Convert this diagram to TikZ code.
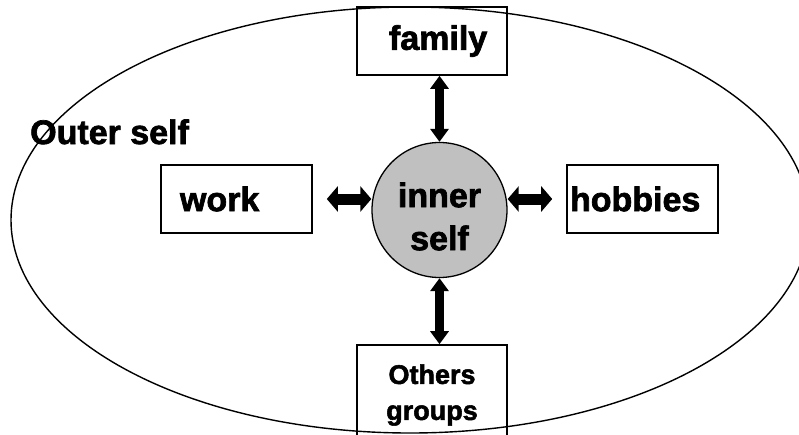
\documentclass[tikz,border=0pt]{standalone}
\usepackage{fontspec}
\setmainfont{Liberation Sans}[BoldFeatures={FakeBold=2}]
\usetikzlibrary{arrows.meta,shapes.geometric}
\definecolor{innergray}{HTML}{C0C0C0}
\tikzset{
  bigfont/.style={font=\fontsize{34}{43}\selectfont\bfseries},
  labelbox/.style={draw, line width=1.6pt, inner xsep=0pt, inner ysep=0pt,
    minimum height=68pt, bigfont},
  dblv/.style={line width=8.5pt, {Triangle[length=13pt,width=18pt]}-{Triangle[length=13pt,width=18pt]}},
  dblh/.style={line width=11pt, {Triangle[length=11pt,width=25pt]}-{Triangle[length=11pt,width=25pt]}},
}
\begin{document}
\begin{tikzpicture}[x=1pt,y=-1pt]
\useasboundingbox (0,0) rectangle (799,434);
\clip (0,0) rectangle (799,434);
% outer ellipse
\node[ellipse, draw, line width=1.4pt, minimum width=798pt, minimum height=426pt, inner sep=0pt] (outer) at (410,220) {};
\node[anchor=base west, inner sep=0pt, bigfont] (outerlabel) at (30,144) {Outer self};
% boxes
\node[labelbox, text width=150pt, align=left] (family) at (432,41) {\hspace*{32pt}family};
\node[labelbox, text width=151pt, align=left] (work) at (236.5,199) {\hspace*{19pt}work};
\node[labelbox, text width=151pt, align=left] (hobbies) at (642.5,199) {\hspace*{3pt}hobbies};
\node[labelbox, text width=150pt, align=center, minimum height=100pt,
  font=\fontsize{27}{36}\selectfont\bfseries] (others) at (432,395) {Others\\groups};
% inner self
\node[circle, draw, line width=1.3pt, fill=innergray, minimum size=135pt, inner sep=0pt] (inner) at (439.5,210) {};
\node[align=center, inner sep=0pt, bigfont] (innerlabel) at (439.5,216.5) {inner\\self};
% arrows
\draw[dblv] (inner.north) -- (inner.north |- family.south);
\draw[dblv] (inner.south) -- (inner.south |- others.north);
\draw[dblh] ([xshift=14pt]work.east) -- (work.east -| inner.west);
\draw[dblh] ([xshift=-14pt]hobbies.west) -- (hobbies.west -| inner.east);
\end{tikzpicture}
\end{document}
